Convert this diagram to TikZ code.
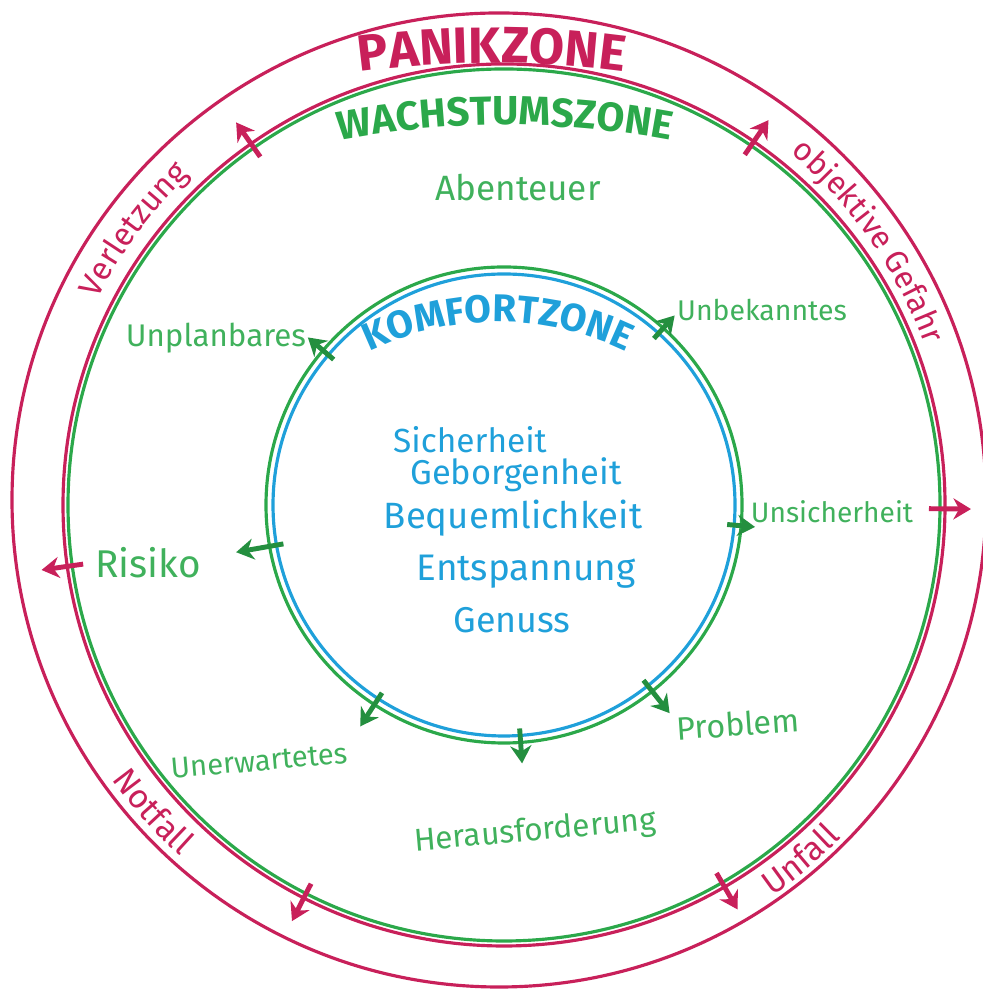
\documentclass[tikz,border=0pt]{standalone}
\usepackage{fontspec}
\setmainfont{Fira Sans}
\usetikzlibrary{arrows.meta,decorations.text}

\definecolor{panikrot}{HTML}{C8205A}
\definecolor{wachsgruen}{HTML}{2BA84A}
\definecolor{komfortblau}{HTML}{1FA0DA}

\newcommand\gr[1]{\fontsize{#1}{#1}\selectfont}

\tikzset{
  ring/.style={line width=0.9pt},
  pfeil/.style={line width=1.4pt,-{Stealth[length=5pt,width=6pt]}},
  wachstext/.style={text=wachsgruen!90!white},
  komforttext/.style={text=komfortblau},
}

\begin{document}
\begin{tikzpicture}[x=0.01cm,y=0.01cm]
\useasboundingbox (0,0) rectangle (983,989);
\coordinate (M) at (499,489); % aussen
\coordinate (Z) at (504,484); % Zonen

% Kreise
\draw[ring,panikrot] (M) circle[radius=487];
\draw[ring,panikrot] (Z) circle[radius=441];
\draw[ring,wachsgruen] (Z) circle[radius=436];
\draw[ring,wachsgruen] (Z) circle[radius=238];
\draw[ring,komfortblau] (Z) circle[radius=231];

% Pfeile nach aussen
\foreach \w/\r in {139.5/258,48/255,-5/252,190/272,237/264,274/259,308.5/266}
  \draw[pfeil,wachsgruen!85!black] ([shift={(\w:224)}]Z) -- ([shift={(\w:\r)}]Z);
\foreach \w in {125,55.5,-0.5,188,243,300}
  \draw[pfeil,panikrot] ([shift={(\w:425)}]Z) -- ([shift={(\w:467)}]Z);

% Zonennamen
\path[decorate,decoration={text along path,text align=center,
  text={|\color{panikrot}\bfseries\gr{14.5}|PANIKZONE}}]
  (492,-74) ++(100:1000) arc[start angle=100,end angle=80,radius=1000];
\path[decorate,decoration={text along path,text align=center,
  text={|\color{wachsgruen}\bfseries\gr{11.5}|WACHSTUMSZONE}}]
  (505,-36) ++(115:900) arc[start angle=115,end angle=65,radius=900];
\path[decorate,decoration={text along path,text align=center,
  text={|\color{komfortblau}\bfseries\gr{11}|KOMFORTZONE}}]
  (498,372) ++(145:295) arc[start angle=145,end angle=35,radius=295];

% Panikzone
\path[decorate,decoration={text along path,text align=center,
  text={|\color{panikrot}\gr{9.2}|Verletzung}}]
  ([shift={(160:449)}]M) arc[start angle=160,end angle=127,radius=449];
\path[decorate,decoration={text along path,text align=center,
  text={|\color{panikrot}\gr{9}|objektive Gefahr}}]
  ([shift={(54:453)}]M) arc[start angle=54,end angle=16,radius=453];
\path[decorate,decoration={text along path,text align=center,
  text={|\color{panikrot}\gr{9.5}|Notfall}}]
  ([shift={(207:478)}]M) arc[start angle=207,end angle=237,radius=478];
\path[decorate,decoration={text along path,text align=center,
  text={|\color{panikrot}\gr{9.5}|Unfall}}]
  ([shift={(295:481)}]M) arc[start angle=295,end angle=325,radius=481];

% Wachstumszone
\node[wachstext,font=\gr{10}] (abenteuer) at (518,801) {Abenteuer};
\node[wachstext,font=\gr{8.9}] (unplanbares) at (216,651) {Unplanbares};
\node[wachstext,font=\gr{8.1}] (unbekanntes) at (762,679) {Unbekanntes};
\node[wachstext,font=\gr{8}] (unsicherheit) at (832,477) {Unsicherheit};
\node[wachstext,font=\gr{11}] (risiko) at (148,426) {Risiko};
\node[wachstext,font=\gr{8.3},rotate=5] (unerwartetes) at (259,228) {Unerwartetes};
\node[wachstext,font=\gr{9},rotate=5] (herausforderung) at (535,157) {Herausforderung};
\node[wachstext,font=\gr{9.2},rotate=4] (problem) at (738,265) {Problem};

% Komfortzone
\node[komforttext,font=\gr{9.5}] (sicherheit) at (470,549) {Sicherheit};
\node[komforttext,font=\gr{9.8}] (geborgenheit) at (516,514) {Geborgenheit};
\node[komforttext,font=\gr{10.4}] (bequemlichkeit) at (513,471) {Bequemlichkeit};
\node[komforttext,font=\gr{10.5}] (entspannung) at (526,417) {Entspannung};
\node[komforttext,font=\gr{10.2}] (genuss) at (512,369) {Genuss};
\end{tikzpicture}
\end{document}
